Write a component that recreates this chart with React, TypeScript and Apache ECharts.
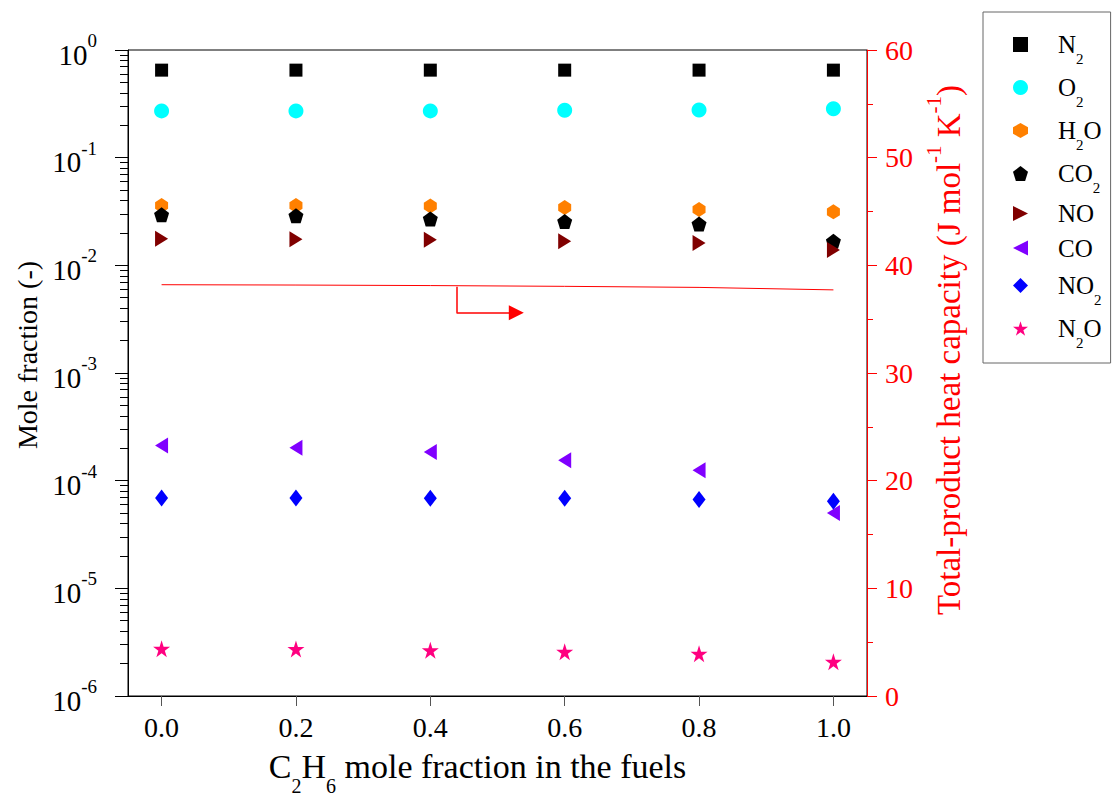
import React, { useEffect, useRef } from 'react';
import * as echarts from 'echarts';

const FONT = '"Liberation Serif", "Times New Roman", serif';

const fuelFraction = [0.0, 0.2, 0.4, 0.6, 0.8, 1.0];
const xTicks = [0.0, 0.2, 0.4, 0.6, 0.8, 1.0];
const leftMajorTicks = [1e-6, 1e-5, 1e-4, 1e-3, 1e-2, 1e-1, 1];
const leftMinorTicks = [
  2e-6, 3e-6, 4e-6, 5e-6, 6e-6, 7e-6, 8e-6, 9e-6,
  2e-5, 3e-5, 4e-5, 5e-5, 6e-5, 7e-5, 8e-5, 9e-5,
  2e-4, 3e-4, 4e-4, 5e-4, 6e-4, 7e-4, 8e-4, 9e-4,
  2e-3, 3e-3, 4e-3, 5e-3, 6e-3, 7e-3, 8e-3, 9e-3,
  2e-2, 3e-2, 4e-2, 5e-2, 6e-2, 7e-2, 8e-2, 9e-2,
  0.2, 0.3, 0.4, 0.5, 0.6, 0.7, 0.8, 0.9,
];

const n2 = [0.65, 0.65, 0.65, 0.65, 0.65, 0.65];
const o2 = [0.272, 0.272, 0.272, 0.276, 0.277, 0.285];
const h2o = [0.036, 0.036, 0.0356, 0.0344, 0.033, 0.0314];
const co2 = [0.0295, 0.0288, 0.027, 0.0255, 0.0242, 0.0167];
const no = [0.0177, 0.0175, 0.0173, 0.0167, 0.0161, 0.0139];
const co = [2.12e-4, 2.02e-4, 1.85e-4, 1.55e-4, 1.25e-4, 5.0e-5];
const no2 = [6.9e-5, 6.9e-5, 6.88e-5, 6.85e-5, 6.7e-5, 6.45e-5];
const n2o = [2.75e-6, 2.73e-6, 2.66e-6, 2.57e-6, 2.47e-6, 2.08e-6];
const heatCapacity = [38.2, 38.17, 38.12, 38.05, 37.95, 37.72];

// arrow annotation pointing to the right axis (x, heat capacity)
const arrowStem = [
  [0.439, 38.0],
  [0.439, 35.6],
];
const arrowHead = [
  [0.439, 35.6],
  [0.528, 35.6],
];

const speciesNames = ['N2', 'O2', 'H2O', 'CO2', 'NO', 'CO', 'NO2', 'N2O'];
const speciesLabels: Record<string, string> = {
  N2: '{sp|}{m|N}{s|2}',
  O2: '{sp|}{m|O}{s|2}',
  H2O: '{sp|}{m|H}{s|2}{m|O}',
  CO2: '{sp|}{m|CO}{s|2}',
  NO: '{sp|}{p|NO}',
  CO: '{sp|}{p|CO}',
  NO2: '{sp|}{m|NO}{s|2}',
  N2O: '{sp|}{m|N}{s|2}{m|O}',
};
const speciesValues = [n2, o2, h2o, co2, no, co, no2, n2o];
const speciesColors = ['#000000', '#00FFFF', '#FF8000', '#000000', '#800000', '#8000FF', '#0000FF', '#FF0080'];

const HEXAGON = 'path://M50,0L100,28L100,72L50,100L0,72L0,28Z';
const PENTAGON = 'path://M50,0L100,38L81,100L19,100L0,38Z';
const RIGHT_TRI = 'path://M0,0L100,50L0,100Z';
const LEFT_TRI = 'path://M100,0L0,50L100,100Z';
const STAR =
  'path://M50,0L61.2,34.6L97.6,34.5L68.1,55.9L79.4,90.5L50,69L20.6,90.5L31.9,55.9L2.4,34.5L38.8,34.6Z';

const speciesSymbols = ['rect', 'circle', HEXAGON, PENTAGON, RIGHT_TRI, LEFT_TRI, 'diamond', STAR];
const speciesSizes: any[] = [13, 15, [13, 15], 15, [13, 16], [13, 16], [13, 17], 17];

export default function App() {
  const ref = useRef<HTMLDivElement>(null);

  useEffect(() => {
    if (!ref.current) return;
    document.body.style.margin = '0';
    const chart = echarts.init(ref.current, null, { renderer: 'svg' });

    const scatterSeries = speciesNames.map((name, i) => ({
      name,
      type: 'scatter',
      xAxisIndex: 0,
      yAxisIndex: 0,
      symbol: speciesSymbols[i],
      symbolSize: speciesSizes[i],
      itemStyle: { color: speciesColors[i], opacity: 1 },
      data: fuelFraction.map((x, j) => [x, speciesValues[i][j]]),
      z: 3 + i,
    }));

    const option: any = {
      animation: false,
      backgroundColor: '#ffffff',
      textStyle: { fontFamily: FONT },
      grid: {
        left: 128,
        right: 246,
        top: 50,
        bottom: 100,
        outerBoundsMode: 'none',
        containLabel: false,
        show: true,
        borderColor: '#000',
        borderWidth: 1,
        backgroundColor: 'transparent',
      },
      legend: {
        orient: 'vertical',
        left: 983,
        top: 12,
        data: speciesNames,
        itemWidth: 15,
        itemHeight: 15,
        itemGap: -5,
        padding: [6, 9, 13, 30],
        borderColor: '#666',
        borderWidth: 1,
        selectedMode: false,
        formatter: (name: string) => speciesLabels[name],
        textStyle: {
          fontFamily: FONT,
          fontSize: 25,
          color: '#000',
          rich: {
            sp: { width: 25, height: 10, lineHeight: 10, verticalAlign: 'top' },
            m: { fontFamily: FONT, fontSize: 25, color: '#000', height: 38, lineHeight: 38, verticalAlign: 'top' },
            p: { fontFamily: FONT, fontSize: 25, color: '#000', height: 32, lineHeight: 32, verticalAlign: 'top' },
            s: { fontFamily: FONT, fontSize: 15, color: '#000', height: 10, lineHeight: 10, verticalAlign: 'bottom' },
          },
        },
      },
      xAxis: [
        {
          type: 'value',
          min: -0.05,
          max: 1.05,
          position: 'bottom',
          name: '{n|C}{s|2}{n|H}{s|6}{n| mole fraction in the fuels}',
          nameLocation: 'middle',
          nameGap: 40,
          nameTextStyle: {
            padding: [0, 40, 0, 0],
            rich: {
              n: { fontFamily: FONT, fontSize: 34, color: '#000', lineHeight: 60, verticalAlign: 'middle' },
              s: { fontFamily: FONT, fontSize: 20, color: '#000', lineHeight: 16, verticalAlign: 'bottom' },
            },
          },
          axisLine: { show: true, onZero: false, lineStyle: { color: '#000', width: 1 } },
          axisTick: {
            show: true,
            length: 10,
            customValues: xTicks,
            lineStyle: { color: '#555', width: 1 },
          },
          axisLabel: {
            customValues: xTicks,
            margin: 17,
            fontFamily: FONT,
            fontSize: 28,
            color: '#000',
            formatter: (v: number) => v.toFixed(1),
          },
          splitLine: { show: false },
        },
      ],
      yAxis: [
        {
          type: 'log',
          logBase: 10,
          min: 1e-6,
          max: 1,
          position: 'left',
          name: 'Mole fraction (-)',
          nameLocation: 'middle',
          nameRotate: 90,
          nameGap: 87,
          nameTextStyle: { fontFamily: FONT, fontSize: 28, color: '#000', padding: [0, 0, 0, 36] },
          axisLine: { show: true, onZero: false, lineStyle: { color: '#000', width: 1 } },
          axisTick: {
            show: true,
            length: 13,
            customValues: leftMajorTicks,
            lineStyle: { color: '#000', width: 1 },
          },
          axisLabel: {
            customValues: leftMajorTicks,
            margin: 31,
            formatter: (v: number) => {
              const e = Math.round(Math.log10(v));
              return '{b|10}{s|' + e + '}';
            },
            rich: {
              b: { fontFamily: FONT, fontSize: 29, color: '#000', lineHeight: 38, verticalAlign: 'bottom' },
              s: { fontFamily: FONT, fontSize: 19, color: '#000', lineHeight: 19, verticalAlign: 'top' },
            },
          },
          splitLine: { show: false },
        },
        {
          type: 'log',
          logBase: 10,
          min: 1e-6,
          max: 1,
          position: 'left',
          axisLine: { show: false, onZero: false },
          axisTick: {
            show: true,
            length: 8,
            customValues: leftMinorTicks,
            lineStyle: { color: '#000', width: 1 },
          },
          axisLabel: { show: false },
          splitLine: { show: false },
        },
        {
          type: 'value',
          min: 0,
          max: 60,
          interval: 10,
          position: 'right',
          name: '{n|Total-product heat capacity (J mol}{s|-1}{n| K}{s|-1}{n|)}',
          nameLocation: 'middle',
          nameRotate: 90,
          nameGap: 56,
          nameTextStyle: {
            padding: [0, 0, 0, 46],
            rich: {
              n: { fontFamily: FONT, fontSize: 33, color: '#ff0000', lineHeight: 42, verticalAlign: 'bottom' },
              s: { fontFamily: FONT, fontSize: 21, color: '#ff0000', lineHeight: 21, verticalAlign: 'top' },
            },
          },
          axisLine: { show: true, onZero: false, lineStyle: { color: '#ff0000', width: 1 } },
          axisTick: { show: true, length: 10, lineStyle: { color: '#ff0000', width: 1 } },
          minorTick: { show: true, splitNumber: 2, length: 6, lineStyle: { color: '#ff0000', width: 1 } },
          axisLabel: { margin: 18, fontFamily: FONT, fontSize: 28, color: '#ff0000' },
          splitLine: { show: false },
          minorSplitLine: { show: false },
        },
      ],
      series: [
        ...scatterSeries,
        {
          name: 'Heat capacity',
          type: 'line',
          xAxisIndex: 0,
          yAxisIndex: 2,
          data: fuelFraction.map((x, j) => [x, heatCapacity[j]]),
          showSymbol: false,
          symbol: 'none',
          lineStyle: { color: '#ff0000', width: 1 },
          z: 2,
        },
        {
          name: 'arrowStem',
          type: 'lines',
          coordinateSystem: 'cartesian2d',
          xAxisIndex: 0,
          yAxisIndex: 2,
          symbol: ['none', 'none'],
          lineStyle: { color: '#ff0000', width: 1.5, opacity: 1 },
          data: [{ coords: arrowStem }],
          z: 2,
        },
        {
          name: 'arrowHead',
          type: 'lines',
          coordinateSystem: 'cartesian2d',
          xAxisIndex: 0,
          yAxisIndex: 2,
          symbol: ['none', 'triangle'],
          symbolSize: [8, 15],
          lineStyle: { color: '#ff0000', width: 1.5, opacity: 1 },
          data: [{ coords: arrowHead }],
          z: 2,
        },
      ],
    };

    chart.setOption(option);
    return () => chart.dispose();
  }, []);

  return <div ref={ref} style={{ width: 1113, height: 796 }} />;
}
